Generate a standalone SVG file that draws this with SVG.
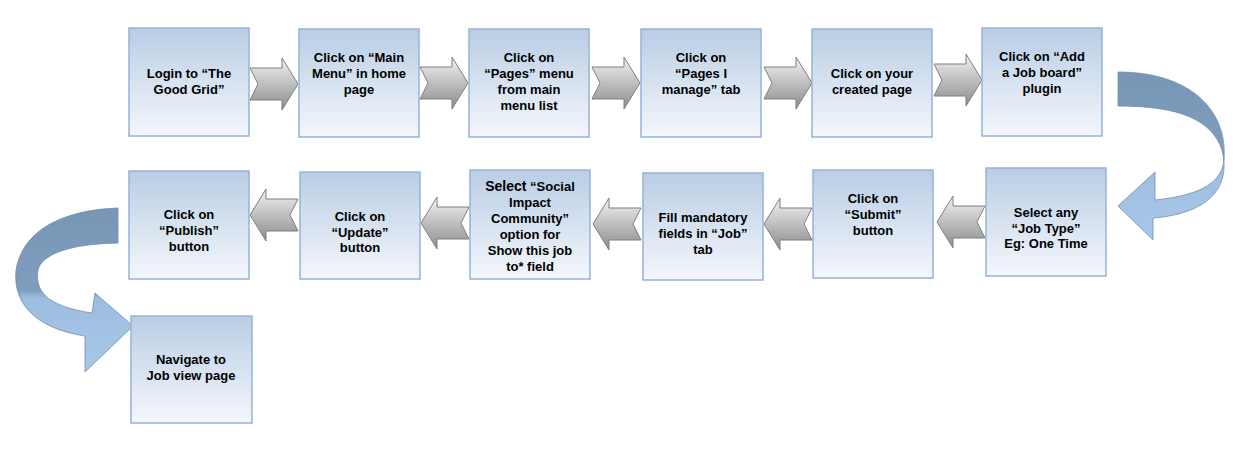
<svg xmlns="http://www.w3.org/2000/svg" width="1250" height="459" viewBox="0 0 1250 459">
<defs>
<linearGradient id="bx" x1="0" y1="0" x2="0" y2="1"><stop offset="0" stop-color="#b9cde5"/><stop offset="1" stop-color="#f4f7fb"/></linearGradient>
<linearGradient id="ar" x1="0" y1="0" x2="0" y2="1"><stop offset="0" stop-color="#f2f2f2"/><stop offset="0.5" stop-color="#bfbfbf"/><stop offset="1" stop-color="#8c8c8c"/></linearGradient>
<linearGradient id="cv" x1="0" y1="0" x2="0" y2="1"><stop offset="0" stop-color="#7896b4"/><stop offset="0.5" stop-color="#7f9dbd"/><stop offset="0.55" stop-color="#9dbde0"/><stop offset="1" stop-color="#a9c7e8"/></linearGradient>
<path id="rarr" d="M0,0 H32 V-10 L48,16 L32,42 V32 H0 L8,16 Z" transform="translate(0,-16)"/>
</defs>
<style>
.b{fill:url(#bx);stroke:#95b3d7;stroke-width:1.5}
.a{fill:url(#ar);stroke:#7f7f7f;stroke-width:1}
text{font-family:"Liberation Sans",Arial,sans-serif;font-weight:bold;font-size:13px;fill:#000;text-anchor:middle}
</style>
<rect width="1250" height="459" fill="#fff"/>
<g id="connectors">
<use href="#rarr" class="a" transform="translate(250,84)"/>
<use href="#rarr" class="a" transform="translate(420,83)"/>
<use href="#rarr" class="a" transform="translate(592,83)"/>
<use href="#rarr" class="a" transform="translate(764,83)"/>
<use href="#rarr" class="a" transform="translate(934,80)"/>
<use href="#rarr" class="a" transform="translate(985,222) scale(-1,1)"/>
<use href="#rarr" class="a" transform="translate(812,224) scale(-1,1)"/>
<use href="#rarr" class="a" transform="translate(641,224) scale(-1,1)"/>
<use href="#rarr" class="a" transform="translate(469,223) scale(-1,1)"/>
<use href="#rarr" class="a" transform="translate(298,215) scale(-1,1)"/>
<path d="M1118,72 C1190,72 1228,110 1224,160 C1222,180 1205,195 1155,200 L1155,172 L1118,206 L1153,240 L1153,218 C1205,214 1232,190 1222,150 C1212,120 1180,106 1118,106 Z" fill="url(#cv)" stroke="#6d8fb3" stroke-width="0.8"/>
<path d="M118,208 C60,210 22,232 16,270 C12,310 45,330 85,336 L85,372 L133,326 L95,293 L92,313 C45,306 35,290 38,270 C42,254 70,244 118,243 Z" fill="url(#cv)" stroke="#6d8fb3" stroke-width="0.8"/>
</g>
<g id="n1"><rect class="b" x="129" y="28" width="120" height="108"/><text x="189" y="78">Login to “The</text><text x="189" y="94">Good Grid”</text></g>
<g id="n2"><rect class="b" x="299" y="29" width="120" height="108"/><text x="359" y="62">Click on “Main</text><text x="359" y="78">Menu” in home</text><text x="359" y="94">page</text></g>
<g id="n3"><rect class="b" x="469" y="29" width="120" height="108"/><text x="529" y="62">Click on</text><text x="529" y="78">“Pages” menu</text><text x="529" y="94">from main</text><text x="529" y="110">menu list</text></g>
<g id="n4"><rect class="b" x="641" y="29" width="120" height="108"/><text x="701" y="62">Click on</text><text x="701" y="78">“Pages I</text><text x="701" y="94">manage” tab</text></g>
<g id="n5"><rect class="b" x="812" y="29" width="120" height="108"/><text x="872" y="78">Click on your</text><text x="872" y="94">created page</text></g>
<g id="n6"><rect class="b" x="982" y="28" width="120" height="108"/><text x="1042" y="61">Click on “Add</text><text x="1042" y="77">a Job board”</text><text x="1042" y="93">plugin</text></g>
<g id="n7"><rect class="b" x="986" y="168" width="120" height="108"/><text x="1046" y="217">Select any</text><text x="1046" y="233">“Job Type”</text><text x="1046" y="248">Eg: One Time</text></g>
<g id="n8"><rect class="b" x="813" y="170" width="120" height="108"/><text x="873" y="203">Click on</text><text x="873" y="219">“Submit”</text><text x="873" y="235">button</text></g>
<g id="n9"><rect class="b" x="643" y="173" width="120" height="107"/><text x="703" y="222">Fill mandatory</text><text x="703" y="238">fields in “Job”</text><text x="703" y="254">tab</text></g>
<g id="n10"><rect class="b" x="470" y="170" width="120" height="109"/><text x="530" y="191"><tspan font-size="14">Select</tspan> “Social</text><text x="530" y="207">Impact</text><text x="530" y="223">Community”</text><text x="530" y="239">option for</text><text x="530" y="255">Show this job</text><text x="530" y="271">to* field</text></g>
<g id="n11"><rect class="b" x="300" y="172" width="120" height="107"/><text x="360" y="221">Click on</text><text x="360" y="237">“Update”</text><text x="360" y="252">button</text></g>
<g id="n12"><rect class="b" x="129" y="171" width="120" height="108"/><text x="189" y="219">Click on</text><text x="189" y="235">“Publish”</text><text x="189" y="251">button</text></g>
<g id="n13"><rect class="b" x="131" y="316" width="121" height="107"/><text x="191" y="364">Navigate to</text><text x="191" y="380">Job view page</text></g>
</svg>
